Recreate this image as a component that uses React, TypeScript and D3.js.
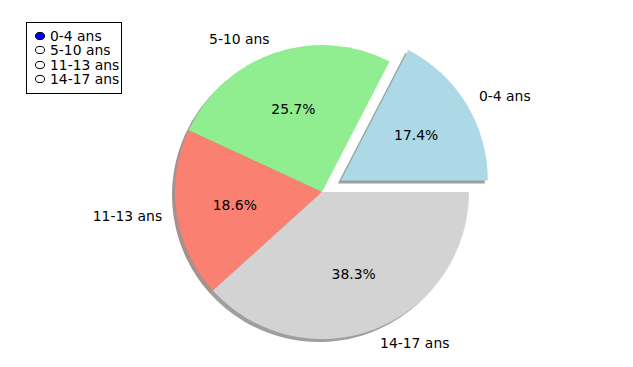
import React from "react";
import * as d3 from "d3";

const categories = ["0-4 ans", "5-10 ans", "11-13 ans", "14-17 ans"];
const values = [17.4, 25.7, 18.6, 38.3];
const colors = ["#add8e6", "#90ee90", "#fa8072", "#d3d3d3"];
const explode = [0.15, 0, 0, 0];

export default function App() {
  const W = 633, H = 367;
  const cx = 322, cy = 192, R = 147;
  const pie = d3.pie<number>().sort(null).value((d) => d)
    .startAngle(Math.PI / 2).endAngle(Math.PI / 2 - 2 * Math.PI);
  const arcs = pie(values);
  const arcGen = d3.arc<any>().innerRadius(0).outerRadius(R);
  const font = "'DejaVu Sans', sans-serif";
  const fs = 13.9;

  const items = arcs.map((a, i) => {
    const mid = (a.startAngle + a.endAngle) / 2;
    const sx = Math.sin(mid), sy = -Math.cos(mid);
    const ex = cx + explode[i] * R * sx;
    const ey = cy + explode[i] * R * sy;
    return { a, i, mid, sx, sy, ex, ey };
  });

  const shadowColor = (c: string) => {
    const rgb = d3.rgb(c);
    return d3.rgb(rgb.r * 0.3, rgb.g * 0.3, rgb.b * 0.3).toString();
  };

  const legendY = [36, 50, 65, 79];

  return (
    <svg width={W} height={H} style={{ position: "absolute", left: 0, top: 0, background: "#fff" }}>
      <rect x={0} y={0} width={W} height={H} fill="#fff" />
      {items.map((it) => (
        <path key={"s" + it.i} d={arcGen(it.a) || ""}
          transform={`translate(${it.ex - 3},${it.ey + 3})`}
          fill={shadowColor(colors[it.i])} fillOpacity={0.5} />
      ))}
      {items.map((it) => (
        <path key={"w" + it.i} d={arcGen(it.a) || ""}
          transform={`translate(${it.ex},${it.ey})`} fill={colors[it.i]} />
      ))}
      {items.map((it) => (
        <text key={"p" + it.i} x={it.ex + 0.6 * R * it.sx} y={it.ey + 0.6 * R * it.sy}
          textAnchor="middle" dominantBaseline="central" fontFamily={font} fontSize={fs}>
          {values[it.i].toFixed(1) + "%"}
        </text>
      ))}
      {items.map((it) => (
        <text key={"l" + it.i} x={it.ex + 1.1 * R * it.sx} y={it.ey + 1.1 * R * it.sy}
          textAnchor={it.sx >= 0 ? "start" : "end"} dominantBaseline="central"
          fontFamily={font} fontSize={fs}>
          {categories[it.i]}
        </text>
      ))}
      <rect x={26.5} y={22.5} width={95} height={71} fill="#fff" stroke="#000" strokeWidth={1} />
      {categories.map((c, i) => (
        <g key={"r" + i}>
          <ellipse cx={40} cy={legendY[i]} rx={4.5} ry={3.6}
            fill={i === 0 ? "#0000ff" : "#fff"} stroke="#000" strokeWidth={1} />
          <text x={50} y={legendY[i]} dominantBaseline="central" fontFamily={font} fontSize={fs}>{c}</text>
        </g>
      ))}
    </svg>
  );
}
